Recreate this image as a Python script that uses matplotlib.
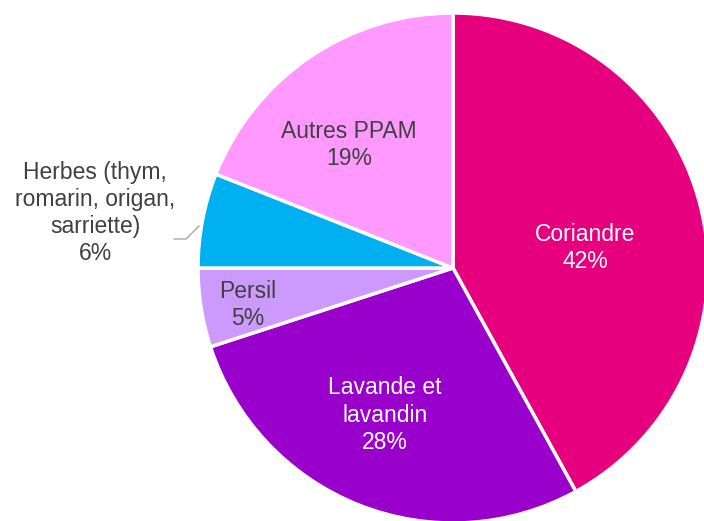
import matplotlib.pyplot as plt

# data
labels = ["Coriandre", "Lavande et\nlavandin", "Persil", "Herbes (thym,\nromarin, origan,\nsarriette)", "Autres PPAM"]
values = [42, 28, 5, 6, 19]
colors = ["#E6007E", "#9900CC", "#CC99FF", "#00B0F0", "#FF99FF"]
text_colors = ["white", "white", "#404040", "#404040", "#404040"]
# label centres in pixels (x from left, y from top)
label_pos = [(585, 248), (385, 415), (248, 305), (95, 213), (349, 145)]

W, H = 704, 521
fig = plt.figure(figsize=(W / 100, H / 100), dpi=100)
ax = fig.add_axes([0, 0, 1, 1])

wedges, _ = ax.pie(values, colors=colors, startangle=90, counterclock=False,
                   center=(453, H - 268), radius=255,
                   wedgeprops=dict(edgecolor="white", linewidth=2.5))
ax.set_xlim(0, W)
ax.set_ylim(0, H)
ax.set_aspect("equal")
ax.axis("off")

for lab, v, c, (x, y) in zip(labels, values, text_colors, label_pos):
    ax.text(x, H - y, f"{lab}\n{v}%", ha="center", va="center", color=c,
            fontsize=16.5, family="Liberation Sans", linespacing=1.23)

# leader line for the Herbes label
ax.plot([174, 186, 199], [H - 239, H - 239, H - 226], color="#A6A6A6", lw=1)

fig.savefig("out.png", dpi=100)
